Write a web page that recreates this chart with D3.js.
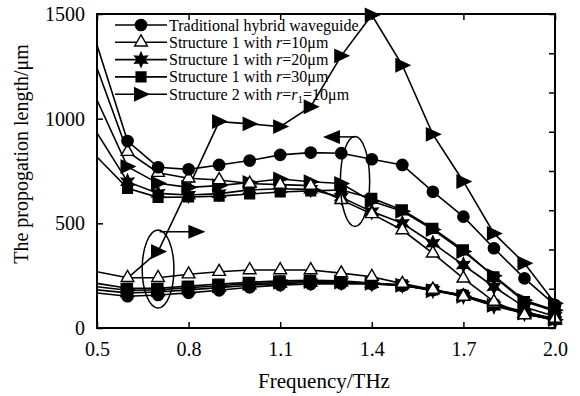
<!DOCTYPE html>
<html>
<head>
<meta charset="utf-8">
<script src="https://cdn.jsdelivr.net/npm/d3@7/dist/d3.min.js"></script>
<style>
body { margin: 0; background: #fff; }
text { font-family: "Liberation Serif", "Times New Roman", serif; fill: #000; }
</style>
</head>
<body>
<div id="chart"></div>
<script>
// frequency (THz)
var freqs = [0.5, 0.6, 0.7, 0.8, 0.9, 1.0, 1.1, 1.2, 1.3, 1.4, 1.5, 1.6, 1.7, 1.8, 1.9, 2.0];

// upper group (left axis)
var tradHigh  = [1352, 893, 768, 758, 779, 800, 827, 838, 835, 806, 779, 651, 532, 381, 237, 110];
var r10High   = [1242, 842, 742, 715, 707, 690, 685, 680, 612, 545, 468, 357, 237, 126, 62, 45];
var r20High   = [932, 699, 643, 635, 642, 660, 665, 662, 625, 556, 500, 405, 301, 197, 100, 55];
var r30High   = [817, 667, 624, 626, 630, 640, 650, 655, 659, 620, 564, 476, 373, 245, 126, 80];
var s2High    = [1089, 771, 691, 672, 680, 695, 712, 699, 690, 605, 558, 470, 365, 250, 132, 85];

// lower group (right axis, drawn in left axis units)
var tradLow   = [167, 152, 158, 168, 180, 195, 205, 210, 212, 210, 202, 182, 158, 115, 78, 42];
var r10Low    = [269, 240, 240, 257, 269, 277, 277, 277, 262, 245, 212, 184, 150, 118, 68, 38];
var r20Low    = [182, 168, 172, 182, 193, 204, 212, 217, 218, 212, 205, 180, 152, 105, 70, 35];
var r30Low    = [213, 190, 190, 200, 210, 218, 225, 228, 225, 215, 206, 182, 156, 110, 76, 45];
var s2Low     = [197, 180, 182, 192, 202, 212, 218, 222, 220, 214, 204, 178, 152, 108, 72, 40];

// structure 2 curve that climbs out of the lower group (starts behind the 0.6 triangle)
var s2Jump    = [null, 238, 365, 672, 986, 975, 962, 1057, 1300, 1495, 1255, 925, 700, 452, 309, 118];

var legendLabels = ['Traditional hybrid waveguide', 'Structure 1 with r=10\u03bcm',
  'Structure 1 with r=20\u03bcm', 'Structure 1 with r=30\u03bcm', 'Structure 2 with r=r1=10\u03bcm'];
var xTicks = [0.5, 0.8, 1.1, 1.4, 1.7, 2.0];
var yTicks = [0, 500, 1000, 1500];
var rightTicks = [0, 1, 2, 3, 4, 5, 6, 7, 8];

var W = 580, H = 396;
var margin = { top: 14, right: 25, bottom: 68, left: 97 };
var pw = W - margin.left - margin.right, ph = H - margin.top - margin.bottom;

var svg = d3.select('#chart').append('svg').attr('width', W).attr('height', H);
var g = svg.append('g').attr('transform', 'translate(' + margin.left + ',' + margin.top + ')');

var x = d3.scaleLinear().domain([0.5, 2.0]).range([0, pw]);
var y = d3.scaleLinear().domain([0, 1500]).range([ph, 0]);
var yR = d3.scaleLinear().domain([0, 8]).range([ph, 0]);

// marker shapes
var rightTri = { draw: function (ctx, size) {
  var s = Math.sqrt(size) * 0.62;
  ctx.moveTo(-s, -s); ctx.lineTo(s * 1.15, 0); ctx.lineTo(-s, s); ctx.closePath();
} };
var star6 = { draw: function (ctx, size) {
  var ro = Math.sqrt(size) * 0.68, ri = ro * 0.5;
  for (var i = 0; i < 12; i++) {
    var a = -Math.PI / 2 + i * Math.PI / 6, r = i % 2 ? ri : ro;
    if (i === 0) ctx.moveTo(r * Math.cos(a), r * Math.sin(a)); else ctx.lineTo(r * Math.cos(a), r * Math.sin(a));
  }
  ctx.closePath();
} };

var kinds = [
  { type: d3.symbolCircle, size: 100, fill: '#000' },
  { type: d3.symbolTriangle, size: 70, fill: '#fff' },
  { type: star6, size: 110, fill: '#000' },
  { type: d3.symbolSquare, size: 95, fill: '#000' },
  { type: rightTri, size: 105, fill: '#000' }
];

var series = [
  { vals: s2Jump, k: 4, markFrom: 0.7 },
  { vals: tradLow, k: 0 }, { vals: r20Low, k: 2 }, { vals: s2Low, k: 4 }, { vals: r30Low, k: 3 }, { vals: r10Low, k: 1 },
  { vals: r30High, k: 3 }, { vals: r20High, k: 2 }, { vals: s2High, k: 4 }, { vals: r10High, k: 1 }, { vals: tradHigh, k: 0 }
];

var line = d3.line()
  .defined(function (d) { return d[1] != null; })
  .x(function (d) { return x(d[0]); })
  .y(function (d) { return y(d[1]); });

series.forEach(function (s) {
  var pts = freqs.map(function (f, i) { return [f, s.vals[i]]; });
  var kd = kinds[s.k];
  var from = s.markFrom || 0.6;
  g.append('path').datum(pts).attr('d', line)
    .attr('fill', 'none').attr('stroke', '#000').attr('stroke-width', 1.6);
  // no marker on the axis edge (0.5)
  g.selectAll(null).data(pts.filter(function (d) { return d[1] != null && d[0] > from - 0.01; }))
    .enter().append('path')
    .attr('d', d3.symbol().type(kd.type).size(kd.size))
    .attr('transform', function (d) { return 'translate(' + x(d[0]) + ',' + y(d[1]) + ')'; })
    .attr('fill', kd.fill).attr('stroke', '#000').attr('stroke-width', 1.4);
});

// annotations: ellipses with arrows pointing to the axis they belong to
var lowEll = { f: 0.70, v: 282, rf: 0.052, rv: 186 };
var highEll = { f: 1.345, v: 700, rf: 0.048, rv: 215 };
function ellipse(e) {
  g.append('ellipse').attr('cx', x(e.f)).attr('cy', y(e.v))
    .attr('rx', x(e.f + e.rf) - x(e.f)).attr('ry', y(e.v - e.rv) - y(e.v))
    .attr('fill', 'none').attr('stroke', '#000').attr('stroke-width', 1.5);
}
function arrow(f0, f1, v) {
  var x0 = x(f0), x1 = x(f1), yy = y(v), dir = x1 > x0 ? 1 : -1;
  g.append('line').attr('x1', x0).attr('x2', x1 - dir * 14).attr('y1', yy).attr('y2', yy)
    .attr('stroke', '#000').attr('stroke-width', 1.5);
  g.append('path').attr('d', 'M' + x1 + ',' + yy + 'L' + (x1 - dir * 17) + ',' + (yy - 7) + 'L' + (x1 - dir * 17) + ',' + (yy + 7) + 'Z')
    .attr('fill', '#000');
}
ellipse(lowEll);
arrow(0.705, 0.855, 460);
ellipse(highEll);
arrow(1.345, 1.24, 913);

// frame
g.append('rect').attr('width', pw).attr('height', ph).attr('fill', 'none').attr('stroke', '#000').attr('stroke-width', 2);

// axes
var xAxis = g.append('g').attr('transform', 'translate(0,' + ph + ')')
  .call(d3.axisBottom(x).tickValues(xTicks).tickFormat(d3.format('.1f')).tickSizeInner(-6).tickSizeOuter(0).tickPadding(14));
var xTop = g.append('g')
  .call(d3.axisTop(x).tickValues(xTicks).tickFormat('').tickSizeInner(-6).tickSizeOuter(0));
var yAxis = g.append('g')
  .call(d3.axisLeft(y).tickValues(yTicks).tickFormat(d3.format('d')).tickSizeInner(-6).tickSizeOuter(0).tickPadding(12));
var yRight = g.append('g').attr('transform', 'translate(' + pw + ',0)')
  .call(d3.axisRight(yR).tickValues(rightTicks).tickFormat('').tickSizeInner(-6).tickSizeOuter(0));
[xAxis, xTop, yAxis, yRight].forEach(function (a) {
  a.select('.domain').remove();
  a.selectAll('line').attr('stroke', '#000').attr('stroke-width', 1.5);
  a.selectAll('text').style('font-size', '20px').style('font-family', '"Liberation Serif", serif').attr('fill', '#000');
});

svg.append('text').attr('x', margin.left + pw / 2 - 2).attr('y', 388)
  .attr('text-anchor', 'middle').style('font-size', '21px').text('Frequency/THz');
svg.append('text').attr('transform', 'translate(28,154) rotate(-90)')
  .attr('text-anchor', 'middle').style('font-size', '20px').text('The propogation length/\u03bcm');

// legend
var leg = g.append('g').attr('transform', 'translate(18,11)');
legendLabels.forEach(function (lab, i) {
  var row = leg.append('g').attr('transform', 'translate(0,' + (i * 17.3) + ')');
  row.append('line').attr('x1', 0).attr('x2', 52).attr('stroke', '#000').attr('stroke-width', 1.6);
  row.append('path').attr('d', d3.symbol().type(kinds[i].type).size(kinds[i].size))
    .attr('transform', 'translate(26,0)').attr('fill', kinds[i].fill).attr('stroke', '#000').attr('stroke-width', 1.4);
  var t = row.append('text').attr('x', 54).attr('y', 5.5).style('font-size', '16px');
  var m = lab.match(/^(.* with )(r)(=.*)$/);
  if (!m) { t.text(lab); return; }
  t.append('tspan').text(m[1]);
  t.append('tspan').style('font-style', 'italic').text('r');
  if (m[3].indexOf('r1') >= 0) {
    t.append('tspan').text('=');
    t.append('tspan').style('font-style', 'italic').text('r');
    t.append('tspan').attr('dy', 3).style('font-size', '11px').text('1');
    t.append('tspan').attr('dy', -3).text('=10\u03bcm');
  } else {
    t.append('tspan').text(m[3]);
  }
});
</script>
</body>
</html>
